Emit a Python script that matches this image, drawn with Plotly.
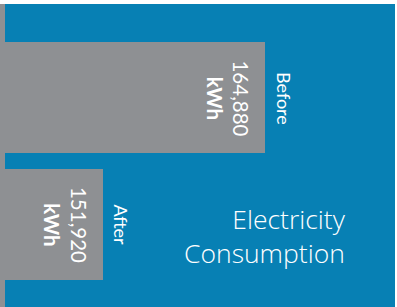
import plotly.graph_objects as go

# ---- data ----
categories = ["After", "Before"]
values = [151920, 164880]
value_labels = ["151,920", "164,880"]
unit = "kWh"
title_lines = ["Electricity", "Consumption"]

BLUE = "#0780b4"
GRAY = "#8e9093"
FONT = "Lato"
TFONT = "Open Sans"

fig = go.Figure(
    go.Bar(
        y=categories,
        x=values,
        orientation="h",
        width=0.874,
        marker=dict(color=GRAY, line=dict(width=0)),
        hoverinfo="skip",
    )
)

# left gray strip
fig.add_shape(type="rect", xref="x domain", yref="y domain",
              x0=0, x1=5 / 395, y0=0, y1=1,
              fillcolor=GRAY, line=dict(width=0), layer="below")

for cat, val, lab in zip(categories, values, value_labels):
    fig.add_annotation(
        x=val, y=cat, xref="x", yref="y",
        text=f"{lab}<br><b>{unit}</b>",
        textangle=90, xanchor="right", yanchor="middle", xshift=-11,
        showarrow=False, align="center", borderpad=0,
        font=dict(family=FONT, size=20.5, color="white"),
    )
    fig.add_annotation(
        x=val, y=cat, xref="x", yref="y",
        text=cat,
        textangle=90, xanchor="left", yanchor="middle", xshift=7,
        showarrow=False, borderpad=0,
        font=dict(family=FONT, size=18, color="white"),
    )

fig.add_annotation(
    x=347 / 395, y=(307 - 236) / 303, xref="paper", yref="paper",
    text="<br>".join(title_lines),
    xanchor="right", yanchor="middle", align="right",
    showarrow=False, borderpad=0,
    font=dict(family=TFONT, size=26.5, color="white", weight=300),
)

fig.update_layout(
    width=397, height=307,
    margin=dict(l=0, r=2, t=4, b=0),
    paper_bgcolor="white",
    plot_bgcolor=BLUE,
    showlegend=False,
    bargap=0,
    xaxis=dict(range=[143746, 175247], visible=False, fixedrange=True),
    yaxis=dict(range=[-0.646, 1.740], visible=False, fixedrange=True,
               categoryorder="array", categoryarray=categories),
)

fig.write_html(
    "out.html",
    config=dict(displayModeBar=False),
    post_script="document.body.style.margin='0px';document.body.style.overflow='hidden';",
)
